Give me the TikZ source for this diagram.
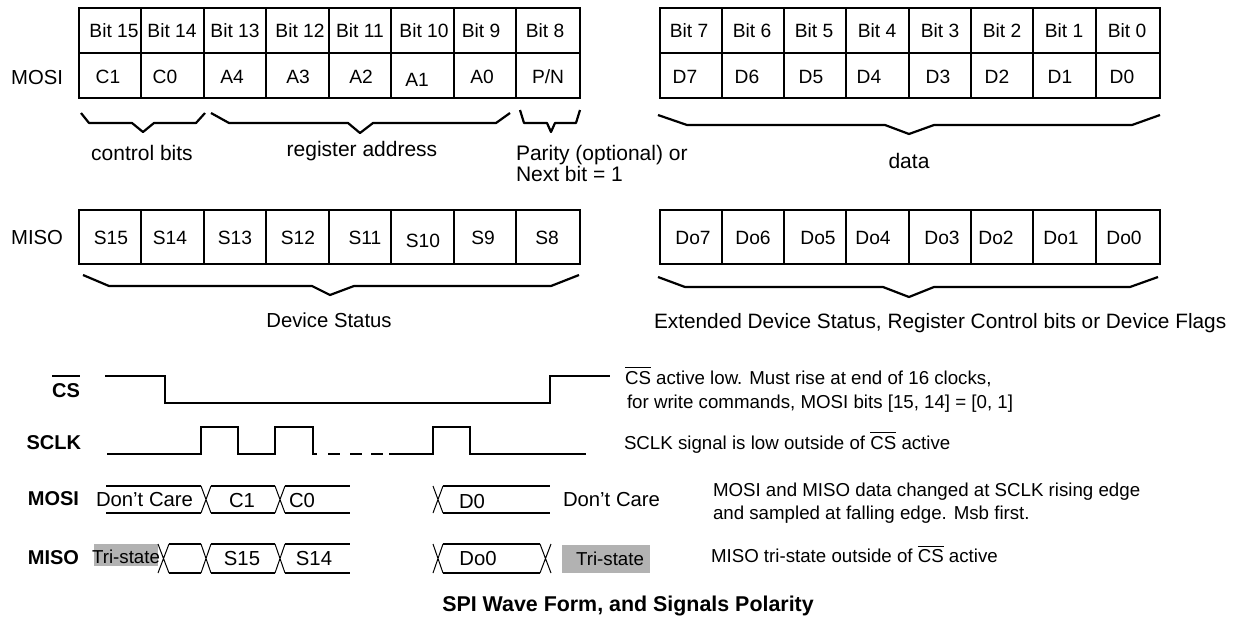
\documentclass[tikz,border=0pt]{standalone}
\usepackage{fontspec}
\setmainfont{Liberation Sans}
\newcommand{\myovl}[3]{\vbox{\hrule height #1\kern #2\hbox{#3}}}
\tikzset{
  tx/.style={inner sep=0pt, outer sep=0pt, font=\fontsize{18.7}{22}\selectfont, anchor=base},
  txw/.style={tx, anchor=base west},
  cel/.style={tx, font=\fontsize{19.2}{22}\selectfont},
  big/.style={font=\fontsize{21}{25}\selectfont},
  mid/.style={font=\fontsize{20.3}{24}\selectfont},
  lbl/.style={inner sep=0pt, outer sep=0pt, font=\fontsize{20}{24}\selectfont\bfseries, anchor=base east},
  tbl/.style={line width=2.8pt, line cap=rect},
  brc/.style={line width=2.2pt, line join=round},
  wave/.style={line width=2.4pt, line join=miter},
  bus/.style={line width=2pt},
  xing/.style={line width=1pt},
  tri/.style={fill=gray!60, draw=none}
}
\begin{document}
\begin{tikzpicture}[x=1pt,y=-1pt]
\useasboundingbox (0,0) rectangle (1243,619);
% ---------- MOSI tables ----------
\draw[tbl] (79,8) rectangle (580,98);
\draw[tbl] (79,53) -- (580,53);
\foreach \x in {141,204,266,329,391,454,516} \draw[tbl] (\x,8) -- (\x,98);
\draw[tbl] (660,8) rectangle (1160,98);
\draw[tbl] (660,53) -- (1160,53);
\foreach \x in {722,784,846,909,971,1033,1096} \draw[tbl] (\x,8) -- (\x,98);
\node[tx, mid, anchor=base east] (mosiA) at (63,84.5) {MOSI};
\foreach \x/\t [count=\i] in {114/Bit 15,172/Bit 14,235/Bit 13,300/Bit 12,360/Bit 11,424/Bit 10,481/Bit 9,545/Bit 8}
  \node[cel] (hA\i) at (\x,37.5) {\t};
\foreach \x/\t/\dy [count=\i] in {108/C1/0,165/C0/0,232/A4/0,298/A3/0,361/A2/0,417/A1/3,482/A0/0,548/P\slash N/0}
  \node[cel] (dA\i) at (\x,83.5+\dy) {\t};
\foreach \x/\t [count=\i] in {689/Bit 7,752/Bit 6,814/Bit 5,877/Bit 4,940/Bit 3,1002/Bit 2,1064/Bit 1,1127/Bit 0}
  \node[cel] (hB\i) at (\x,37.5) {\t};
\foreach \x/\t [count=\i] in {685/D7,747/D6,811/D5,869/D4,938/D3,997/D2,1060/D1,1122/D0}
  \node[cel] (dB\i) at (\x,83.5) {\t};
% braces
\draw[brc] (81,113) -- (89,123) -- (132,123) -- (143,132) -- (154,123) -- (196,123) -- (205,113);
\draw[brc] (211,113) -- (229,123) -- (348,123) -- (360,133) -- (373,123) -- (496,123) -- (510,113);
\draw[brc] (520,110) -- (524,123) -- (547,123) -- (551,132) -- (555,123) -- (576,123) -- (580,110);
\draw[brc] (658,115) -- (687,125) -- (885,125) -- (909,134) -- (934,125) -- (1132,125) -- (1160,115);
\node[tx, big] (ctl) at (142,160) {control bits};
\node[tx, big] (reg) at (362,156.5) {register address};
\node[txw, big] (par1) at (516,160) {Parity (optional) or};
\node[txw, big] (par2) at (516,181) {Next bit = 1};
\node[tx, big] (dat) at (909,168) {data};
% ---------- MISO tables ----------
\draw[tbl] (79,210) rectangle (580,264);
\foreach \x in {141,204,266,329,391,454,516} \draw[tbl] (\x,210) -- (\x,264);
\draw[tbl] (660,210) rectangle (1160,264);
\foreach \x in {722,784,846,909,971,1033,1096} \draw[tbl] (\x,210) -- (\x,264);
\node[tx, mid, anchor=base east] (misoA) at (63,244.5) {MISO};
\foreach \x/\t/\dy [count=\i] in {111/S15/0,170/S14/0,235/S13/0,298/S12/0,365/S11/0,423/S10/3,483/S9/0,547/S8/0}
  \node[cel] (sA\i) at (\x,244+\dy) {\t};
\foreach \x/\t [count=\i] in {693/Do7,753/Do6,818/Do5,873/Do4,942/Do3,996/Do2,1061/Do1,1124/Do0}
  \node[cel] (sB\i) at (\x,244) {\t};
\draw[brc] (83,275) -- (109,286) -- (312,286) -- (330,295) -- (354,286) -- (551,286) -- (579,275);
\draw[brc] (658,277) -- (685,287) -- (883,287) -- (909,297) -- (934,287) -- (1130,287) -- (1158,277);
\node[tx, mid] (dev) at (329,327) {Device Status};
\node[txw, font=\fontsize{20.8}{25}\selectfont] (ext) at (654,328) {Extended Device Status, Register Control bits or Device Flags};
% ---------- waveforms ----------
\node[lbl] (csL) at (80,397) {\myovl{2pt}{6.5pt}{CS}};
\node[lbl] (sclkL) at (81,449.5) {SCLK};
\node[lbl] (mosiL) at (79,505) {MOSI};
\node[lbl] (misoL) at (79,564) {MISO};
% CS
\draw[wave] (105,376) -| (165,403) -| (550,376) -- (610,376);
% SCLK
\draw[wave] (107,454) -| (201,427) -| (238,454) -| (275,427) -| (313,454) -- (317,454);
\draw[wave] (328,454) -- (340,454) (350,454) -- (362,454) (371,454) -- (383,454);
\draw[wave] (389,454) -| (433,427) -| (470,454) -- (586,454);
% MOSI bus
\draw[bus] (106,486) -- (201,486) (106,513) -- (201,513);
\draw[xing] (201,486) -- (211,513) (201,513) -- (211,486);
\draw[bus] (211,486) -- (275,486) (211,513) -- (275,513);
\draw[xing] (275,486) -- (285,513) (275,513) -- (285,486);
\draw[bus] (285,486) -- (350,486) (285,513) -- (350,513);
\draw[xing] (433,486) -- (443,513) (433,513) -- (443,486);
\draw[bus] (443,486) -- (550,486) (443,513) -- (550,513);
\node[txw, mid] (dc1) at (96,506.5) {Don’t Care};
\node[tx, mid] (c1) at (242,507) {C1};
\node[txw, mid] (c0) at (289,507) {C0};
\node[tx, mid] (d0) at (472,508) {D0};
\node[txw, mid] (dc2) at (563,506) {Don’t Care};
% MISO bus
\fill[tri] (94,544) rectangle (158,566);
\node[tx] (ts1) at (126,563) {Tri-state};
\draw[xing] (158,544) -- (169,573) (158,573) -- (169,544);
\draw[bus] (169,544) -- (201,544) (169,573) -- (201,573);
\draw[xing] (201,544) -- (211,573) (201,573) -- (211,544);
\draw[bus] (211,544) -- (275,544) (211,573) -- (275,573);
\draw[xing] (275,544) -- (285,573) (275,573) -- (285,544);
\draw[bus] (285,544) -- (350,544) (285,573) -- (350,573);
\node[tx, mid] (s15) at (242,565.5) {S15};
\node[tx, mid] (s14) at (314,565.5) {S14};
\draw[xing] (433,544) -- (443,573) (433,573) -- (443,544);
\draw[bus] (443,544) -- (540,544) (443,573) -- (540,573);
\draw[xing] (540,544) -- (551,573) (540,573) -- (551,544);
\fill[tri] (562,545) rectangle (650,573);
\node[tx, mid] (do0) at (478,565.5) {Do0};
\node[tx] (ts2) at (610,565) {Tri-state};
% annotations
\node[txw] (n1) at (625,384) {\myovl{1.4pt}{2.5pt}{CS} active low. Must rise at end of 16 clocks,};
\node[txw] (n2) at (627,408) {for write commands, MOSI bits [15, 14] = [0, 1]};
\node[txw] (n3) at (624,449) {SCLK signal is low outside of \myovl{1.4pt}{2.5pt}{CS} active};
\node[txw] (n4) at (713,496) {MOSI and MISO data changed at SCLK rising edge};
\node[txw] (n5) at (713,519.5) {and sampled at falling edge. Msb first.};
\node[txw] (n6) at (711,562.5) {MISO tri-state outside of \myovl{1.4pt}{2.5pt}{CS} active};
\node[tx, font=\fontsize{21.4}{25}\selectfont\bfseries] (title) at (628,611.5) {SPI Wave Form, and Signals Polarity};
\end{tikzpicture}
\end{document}
